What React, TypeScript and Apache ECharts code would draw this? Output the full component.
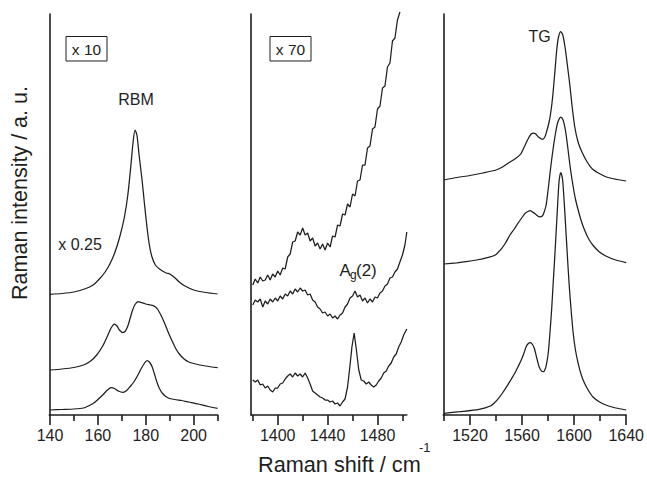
import React, { useEffect, useRef } from "react";
import * as echarts from "echarts";

// ---------- Tick values ----------
const rbmMajorTicks = [140, 160, 180, 200];
const rbmMinorTicks = [150, 170, 190, 210];
const dMajorTicks = [1400, 1440, 1480];
const dMinorTicks = [1380, 1420, 1460, 1500];
const gMajorTicks = [1520, 1560, 1600, 1640];
const gMinorTicks = [1500, 1540, 1580, 1620];

// ---------- RBM panel (x: cm-1, y: a.u.) ----------
const rbmTop: [number, number][] = [
  [140, 120.7], [145, 121.5], [150, 123], [155, 126.5], [158, 130], [161, 137], [163, 143], [165, 151],
  [167, 162], [169, 177], [171, 197], [172.5, 220], [173.8, 250], [174.7, 273], [175.5, 285], [176.3, 280],
  [177.2, 260], [178.4, 236], [179.5, 210], [180.5, 188], [181.5, 170], [182.6, 158], [184, 150], [186, 145.5],
  [188.5, 142], [190, 141], [192, 137.5], [194, 133], [196, 129.5], [200, 125], [205, 122.5], [210, 121],
];
const rbmMid: [number, number][] = [
  [140, 45], [145, 46], [150, 47.5], [154, 50], [157, 54], [159.5, 60], [162, 69], [164, 79], [165.5, 87],
  [166.9, 91], [168, 89], [169, 85], [170.4, 82.5], [171.5, 84], [172.5, 89], [173.5, 97], [174.5, 105],
  [175.5, 110.5], [176.8, 113.5], [178, 112.5], [180, 111], [182, 110], [183.5, 109], [185, 105.5],
  [186.5, 99], [188, 91], [189.5, 82], [191, 74], [192.5, 66.5], [194, 61], [196, 56], [198, 53],
  [200, 51.5], [205, 49], [210, 47.3],
];
const rbmBot: [number, number][] = [
  [140, 5], [145, 5.5], [150, 6], [154, 7], [156, 9], [158, 11.5], [160, 15.5], [162, 20], [164, 25],
  [165.5, 27.5], [167, 26.5], [168.5, 24], [170.5, 22.7], [172, 24.5], [173.5, 28.5], [175, 33], [176.5, 39],
  [178, 46], [179.5, 52], [180.5, 54.5], [181.5, 53], [182.6, 48.5], [183.5, 42], [184.5, 34], [185.5, 27.5],
  [187, 21.5], [189, 17.5], [192, 15.5], [195, 14.5], [198, 13], [202, 11], [206, 8.5], [210, 6.7],
];

// ---------- D-band panel ----------
const dTop: [number, number][] = [
  [1380, 130], [1382, 136], [1384, 132], [1386, 138], [1388, 134], [1390, 135], [1392, 140], [1394, 135],
  [1396, 141], [1398, 138], [1400, 144], [1402, 140], [1404, 147], [1406, 146], [1408, 158], [1410, 161],
  [1412, 173], [1414, 174], [1416, 183], [1418, 180], [1420, 187], [1422, 180], [1424, 182], [1426, 174],
  [1428, 177], [1430, 169], [1432, 172], [1434, 166], [1436, 171], [1438, 165], [1440, 172], [1442, 168],
  [1444, 179], [1446, 178], [1448, 190], [1450, 189], [1452, 201], [1454, 200], [1456, 211], [1458, 208],
  [1460, 221], [1462, 219], [1464, 234], [1466, 235], [1468, 250], [1470, 250], [1472, 267], [1474, 269],
  [1476, 286], [1478, 288], [1480, 306], [1482, 309], [1484, 327], [1486, 329], [1488, 348], [1490, 352],
  [1492, 374], [1494, 377], [1496, 395], [1498, 403],
];
const dMid: [number, number][] = [
  [1380, 110], [1382, 115], [1384, 113], [1386, 116], [1388, 108], [1390, 114], [1392, 111], [1394, 116],
  [1396, 113], [1398, 117], [1400, 114], [1402, 119], [1404, 116], [1406, 121], [1408, 119], [1410, 124],
  [1412, 121], [1414, 126], [1416, 123], [1418, 127], [1420, 124], [1422, 125], [1424, 120], [1426, 121],
  [1428, 115], [1430, 113], [1432, 108], [1434, 106], [1436, 102], [1438, 103], [1440, 99], [1442, 101],
  [1444, 97], [1446, 99], [1448, 96], [1450, 100], [1452, 102], [1454, 108], [1456, 111], [1458, 117],
  [1460, 119], [1462, 124], [1464, 118], [1466, 120], [1468, 114], [1470, 117], [1472, 112], [1474, 116],
  [1476, 113], [1478, 118], [1480, 117], [1482, 122], [1484, 124], [1486, 129], [1488, 131], [1490, 137],
  [1492, 138], [1494, 143], [1496, 146], [1498, 153], [1500, 160], [1502, 170], [1503.5, 183],
];
const dBot: [number, number][] = [
  [1380, 35], [1382, 33], [1384, 35], [1386, 30], [1388, 31], [1390, 27], [1392, 29], [1394, 25],
  [1396, 23], [1398, 27], [1400, 27], [1402, 31], [1404, 32], [1406, 36], [1408, 39], [1410, 41],
  [1412, 38], [1414, 42], [1416, 39], [1418, 41], [1420, 38], [1422, 42], [1424, 37], [1426, 31],
  [1428, 24], [1430, 22], [1432, 20], [1434, 18], [1436, 17], [1438, 15], [1440, 15], [1442, 13],
  [1444, 14], [1446, 11], [1448, 12], [1450, 9], [1452, 13], [1454, 16], [1456, 28], [1458, 50],
  [1459.5, 68], [1461.3, 82], [1463, 66], [1465, 45], [1467, 35], [1469, 34], [1471, 31], [1473, 33],
  [1475, 30], [1477, 28], [1479, 30], [1481, 34], [1483, 37], [1485, 42], [1487, 44], [1489, 49],
  [1491, 52], [1493, 58], [1495, 61], [1497, 68], [1499, 73], [1501, 80], [1503.5, 86],
];

// ---------- TG panel ----------
const gTop: [number, number][] = [
  [1500, 235], [1510, 237.5], [1520, 239.5], [1530, 242], [1540, 245], [1545, 248], [1550, 252.5],
  [1555, 256.5], [1559, 261], [1562, 269], [1565, 277], [1567, 281], [1568.9, 282], [1570.5, 281],
  [1572.5, 278], [1575.6, 275.7], [1577.5, 278], [1579, 284], [1580.6, 292], [1582, 302], [1583.5, 318],
  [1585, 340], [1586.7, 366], [1588, 378], [1589.7, 383.5], [1591.3, 380], [1593, 368], [1594.8, 350],
  [1596.7, 330], [1598.5, 308], [1600.5, 288], [1603, 273], [1606, 263], [1610, 253], [1614, 246],
  [1620, 241], [1626, 237.5], [1633, 235.5], [1640, 234],
];
const gMid: [number, number][] = [
  [1500, 151], [1510, 152.2], [1517, 153.3], [1525, 155], [1534, 157.7], [1539.4, 160], [1544.4, 166.7],
  [1547.5, 172.5], [1550.7, 180], [1554, 186], [1557, 192], [1560, 197.5], [1562.4, 201.7], [1564.5, 203.5],
  [1566.4, 204.3], [1568, 203], [1570, 201.3], [1572, 199], [1573.5, 198.2], [1575.6, 199], [1577, 203],
  [1578.5, 210], [1580, 225], [1581.5, 242], [1583, 258], [1584.5, 272], [1586, 284], [1587.5, 293],
  [1589.8, 298], [1591.5, 295], [1593, 287], [1594.5, 274], [1596, 258], [1597.5, 243], [1599.3, 228],
  [1601, 216], [1603.1, 205], [1605.5, 194], [1608, 185], [1611, 176.5], [1614.3, 170], [1619, 163.5],
  [1624.3, 159], [1632, 155], [1640, 152.3],
];
const gBot: [number, number][] = [
  [1500, 1.7], [1512, 3.3], [1527, 5.7], [1535.7, 9], [1539, 12.5], [1541.9, 16.7], [1545, 22],
  [1548.2, 28.3], [1551.3, 35], [1554.4, 41.7], [1557, 48.5], [1559.4, 55], [1561.5, 62], [1563.1, 68.3],
  [1564.8, 71.5], [1566.4, 72.5], [1568, 70.5], [1569.4, 66.7], [1571.3, 57], [1573.1, 48.3],
  [1574.8, 44.2], [1576.4, 43.3], [1577.8, 46], [1578.9, 51.7], [1580.2, 63], [1581.4, 81.7],
  [1582.7, 105], [1583.9, 131.7], [1585.2, 160], [1586.4, 188.3], [1587.4, 212], [1588.3, 231.7],
  [1589.1, 240], [1589.8, 242.5], [1590.5, 240], [1591.3, 233.3], [1592.5, 210], [1593.8, 181.7],
  [1595, 155], [1596.3, 128.3], [1597.8, 103], [1599.3, 81.7], [1601, 65], [1603.1, 51.7], [1605.5, 40],
  [1608, 31.7], [1611, 24.5], [1614.3, 18.3], [1619, 13.5], [1624.3, 10], [1632, 7], [1640, 5],
];

const FONT = "'Liberation Sans', Arial, Helvetica, sans-serif";
const INK = "#1e1e1e";

const panels = [
  { left: 49.3, width: 168.3, min: 139.7, max: 210, major: rbmMajorTicks, minor: rbmMinorTicks, series: [rbmTop, rbmMid, rbmBot], smooth: 0.25 },
  { left: 251, width: 155.8, min: 1378.6, max: 1503.5, major: dMajorTicks, minor: dMinorTicks, series: [dTop, dMid, dBot], smooth: false },
  { left: 443.3, width: 188.2, min: 1499.5, max: 1640, major: gMajorTicks, minor: gMinorTicks, series: [gTop, gMid, gBot], smooth: 0.25 },
];

export default function App() {
  const ref = useRef<HTMLDivElement>(null);
  useEffect(() => {
    if (!ref.current) return;
    const chart = echarts.init(ref.current, null, { renderer: "svg" });
    const grid: any[] = [];
    const xAxis: any[] = [];
    const yAxis: any[] = [];
    const series: any[] = [];
    panels.forEach((p, i) => {
      grid.push({ left: p.left, top: 14, width: p.width, height: 401 });
      xAxis.push({
        type: "value", gridIndex: i, min: p.min, max: p.max, position: "bottom",
        axisLine: { show: true, onZero: false, lineStyle: { color: INK, width: 1.6 } },
        axisTick: { show: true, customValues: p.major, length: 10, lineStyle: { color: INK, width: 1.6 } },
        axisLabel: {
          show: true, customValues: p.major, margin: 12, fontSize: 16, color: INK, fontFamily: FONT,
          formatter: (v: number) => String(v),
        },
        splitLine: { show: false },
      });
      xAxis.push({
        type: "value", gridIndex: i, min: p.min, max: p.max, position: "bottom",
        axisLine: { show: true, onZero: false, lineStyle: { color: INK, width: 1, opacity: 0 } },
        axisTick: { show: true, customValues: p.minor, length: 6, lineStyle: { color: INK, width: 1.6 } },
        axisLabel: { show: false },
        splitLine: { show: false },
      });
      yAxis.push({
        type: "value", gridIndex: i, min: 0, max: 401,
        axisLine: { show: true, onZero: false, lineStyle: { color: INK, width: 1.6 } },
        axisTick: { show: false }, axisLabel: { show: false }, splitLine: { show: false },
      });
      p.series.forEach((d) => {
        series.push({
          type: "line", xAxisIndex: i * 2, yAxisIndex: i, data: d, showSymbol: false, symbol: "none",
          smooth: p.smooth, clip: false, silent: true,
          lineStyle: { color: INK, width: 1.25 },
        });
      });
    });

    const txt = (text: string, x: number, y: number, fontSize: number, align = "center", extra: any = {}) => ({
      type: "text", x, y, silent: true, ...extra,
      style: { text, fontSize, fontFamily: FONT, fill: INK, align, verticalAlign: "middle" },
    });

    chart.setOption({
      animation: false,
      backgroundColor: "#ffffff",
      grid, xAxis, yAxis, series,
      graphic: [
        { type: "rect", shape: { x: 66, y: 36.5, width: 41, height: 24.5 }, style: { fill: "none", stroke: INK, lineWidth: 1 } },
        txt("x 10", 86.5, 49, 15.5),
        { type: "rect", shape: { x: 270, y: 36.5, width: 41, height: 24.5 }, style: { fill: "none", stroke: INK, lineWidth: 1 } },
        txt("x 70", 290.5, 49, 15.5),
        txt("RBM", 136, 99, 16),
        txt("x 0.25", 80, 244.5, 16),
        txt("TG", 539.5, 36.5, 16),
        txt("A", 339.5, 270, 17, "left"),
        txt("g", 350, 275, 12, "left"),
        txt("(2)", 356, 270, 17, "left"),
        txt("Raman intensity / a. u.", 20, 193, 21.5, "center", { rotation: Math.PI / 2 }),
        txt("Raman shift / cm", 258, 464, 21.7, "left"),
        txt("-1", 419, 447, 13, "left"),
      ],
    });
    return () => chart.dispose();
  }, []);
  return (
    <div
      ref={ref}
      style={{ position: "fixed", left: 0, top: 0, width: 647, height: 477, background: "#fff" }}
    />
  );
}
